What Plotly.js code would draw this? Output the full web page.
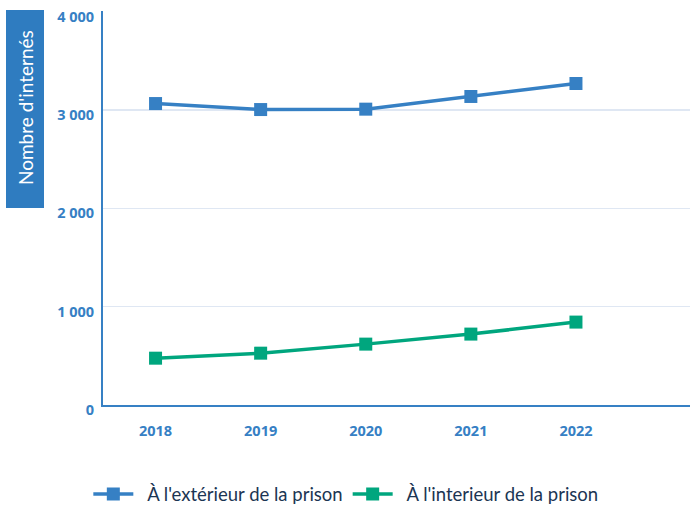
<!DOCTYPE html>
<html>
<head>
<meta charset="utf-8">
<script src="https://cdn.plot.ly/plotly-3.0.1.min.js"></script>
<style>html,body{margin:0;padding:0;background:#fff;}</style>
</head>
<body>
<div id="chart" style="width:690px;height:508px;"></div>
<script>
const years = ["2018", "2019", "2020", "2021", "2022"];
const exterieur = [3065, 3004, 3008, 3137, 3269];
const interieur = [476, 527, 619, 721, 843];
const seriesNames = ["À l'extérieur de la prison", "À l'interieur de la prison"];
const yTicks = [0, 1000, 2000, 3000, 4000];
const yTitle = "Nombre d'internés";

const blue = "#3680c4";
const green = "#00a67e";
const pad = "\u00a0\u00a0";

const traces = [
  {x: years, y: exterieur, name: pad + seriesNames[0], type: "scatter", mode: "lines+markers",
   line: {color: blue, width: 3.5}, marker: {symbol: "square", size: 13, color: blue}},
  {x: years, y: interieur, name: pad + seriesNames[1], type: "scatter", mode: "lines+markers",
   line: {color: green, width: 3.5}, marker: {symbol: "square", size: 13, color: green}}
];

const layout = {
  width: 690, height: 508,
  margin: {l: 103, r: 0, t: 11, b: 103, autoexpand: false},
  paper_bgcolor: "#fff", plot_bgcolor: "#fff",
  separators: ", ",
  showlegend: true,
  legend: {orientation: "h", x: -0.025, xanchor: "left", y: -0.227, yanchor: "middle",
    font: {family: "Lato, 'Open Sans', sans-serif", size: 18.5, color: "#1b3553"},
    itemwidth: 40, tracegroupgap: 0},
  xaxis: {type: "category", range: [-0.5, 5.085], showgrid: false, zeroline: false,
    showline: true, linecolor: blue, linewidth: 2, ticks: "",
    tickfont: {family: "'Open Sans', sans-serif", size: 14.5, color: blue, weight: "bold"},
    ticklabelstandoff: 12, fixedrange: true},
  yaxis: {range: [0, 4006], tickvals: yTicks, tickformat: ",d", showgrid: true,
    gridcolor: "#dfe7f3", gridwidth: 1.5, zeroline: false,
    showline: true, linecolor: blue, linewidth: 2, ticks: "",
    tickfont: {family: "'Open Sans', sans-serif", size: 14.5, color: blue, weight: "bold"},
    ticklabelstandoff: 4, ticklabelshift: 5, fixedrange: true},
  shapes: [{type: "rect", xref: "paper", yref: "paper",
    x0: (6 - 103) / 587, x1: (44 - 103) / 587, y0: (405 - 208) / 394, y1: (405 - 10) / 394,
    fillcolor: "#2f7cc0", line: {width: 0}, layer: "above"}],
  annotations: [{xref: "paper", yref: "paper", x: (25 - 103) / 587, y: (405 - 108) / 394,
    text: yTitle, showarrow: false, textangle: -90,
    font: {family: "Lato, 'Open Sans', sans-serif", size: 19, color: "#ffffff"},
    xanchor: "center", yanchor: "middle"}]
};

Plotly.newPlot("chart", traces, layout, {displayModeBar: false, staticPlot: true});
</script>
</body>
</html>
